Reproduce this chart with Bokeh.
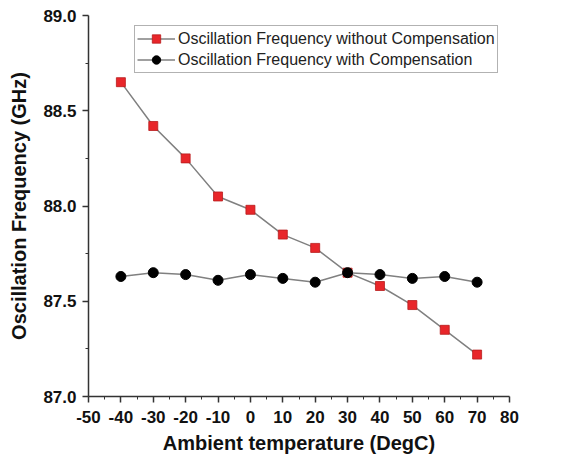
from bokeh.plotting import figure
from bokeh.models import Range1d, Legend, LegendItem, FixedTicker, PrintfTickFormatter
from bokeh.embed import file_html
from bokeh.resources import INLINE

temps = [-40, -30, -20, -10, 0, 10, 20, 30, 40, 50, 60, 70]
freq_without = [88.65, 88.42, 88.25, 88.05, 87.98, 87.85, 87.78, 87.65, 87.58, 87.48, 87.35, 87.22]
freq_with = [87.63, 87.65, 87.64, 87.61, 87.64, 87.62, 87.60, 87.65, 87.64, 87.62, 87.63, 87.60]
x_ticks = [-50, -40, -30, -20, -10, 0, 10, 20, 30, 40, 50, 60, 70, 80]
y_ticks = [87.0, 87.5, 88.0, 88.5, 89.0]

FONT = "Liberation Sans"

p = figure(width=580, height=462, output_backend="svg", toolbar_location=None,
           x_range=Range1d(-50, 80), y_range=Range1d(87.0, 89.0),
           min_border_left=88, min_border_right=71, min_border_top=15, min_border_bottom=66)
p.outline_line_color = None
p.xgrid.visible = False
p.ygrid.visible = False
p.background_fill_color = "white"

r1_line = p.line(temps, freq_without, line_color="#808080", line_width=1.5)
r1_mk = p.scatter(temps, freq_without, marker="square", size=9, fill_color="#e8262a", line_color="#b81c1c", line_width=0.8)
r2_line = p.line(temps, freq_with, line_color="#808080", line_width=1.5)
r2_mk = p.scatter(temps, freq_with, marker="circle", size=10, fill_color="black", line_color="black")

for ax in (p.xaxis[0], p.yaxis[0]):
    ax.axis_line_color = "#333333"
    ax.axis_line_width = 1.5
    ax.major_tick_line_color = "#333333"
    ax.minor_tick_line_color = "#333333"
    ax.major_tick_line_width = 1.5
    ax.major_tick_out = 6
    ax.major_tick_in = 0
    ax.minor_tick_out = 3
    ax.minor_tick_in = 0
    ax.major_label_text_font = FONT
    ax.major_label_text_font_style = "bold"
    ax.major_label_text_font_size = "17px"
    ax.major_label_text_color = "#111111"
    ax.axis_label_text_font = FONT
    ax.axis_label_text_font_style = "bold"
    ax.axis_label_text_font_size = "20px"
    ax.axis_label_text_color = "#111111"

p.xaxis.ticker = FixedTicker(ticks=x_ticks, minor_ticks=[v + 5 for v in x_ticks[:-1]])
p.yaxis.ticker = FixedTicker(ticks=y_ticks, minor_ticks=[v + 0.25 for v in y_ticks[:-1]])
p.xaxis.formatter = PrintfTickFormatter(format="%d")
p.yaxis.formatter = PrintfTickFormatter(format="%.1f")
p.xaxis.axis_label = "Ambient temperature (DegC)"
p.yaxis.axis_label = "Oscillation Frequency (GHz)"
p.xaxis.major_label_standoff = 8
p.yaxis.major_label_standoff = 6
p.xaxis.axis_label_standoff = 6
p.yaxis.axis_label_standoff = 10

legend = Legend(items=[
    LegendItem(label="Oscillation Frequency without Compensation", renderers=[r1_line, r1_mk]),
    LegendItem(label="Oscillation Frequency with Compensation", renderers=[r2_line, r2_mk]),
], location=(46, 323))
legend.label_text_font = FONT
legend.label_text_font_size = "16px"
legend.label_text_color = "#222222"
legend.border_line_color = "#666666"
legend.border_line_width = 1
legend.padding = 2
legend.margin = 0
legend.spacing = 0
legend.label_height = 21
legend.glyph_height = 21
legend.glyph_width = 38
legend.label_standoff = 3
legend.background_fill_alpha = 1
p.add_layout(legend, "center")

open("out.html", "w").write(file_html(p, INLINE))
